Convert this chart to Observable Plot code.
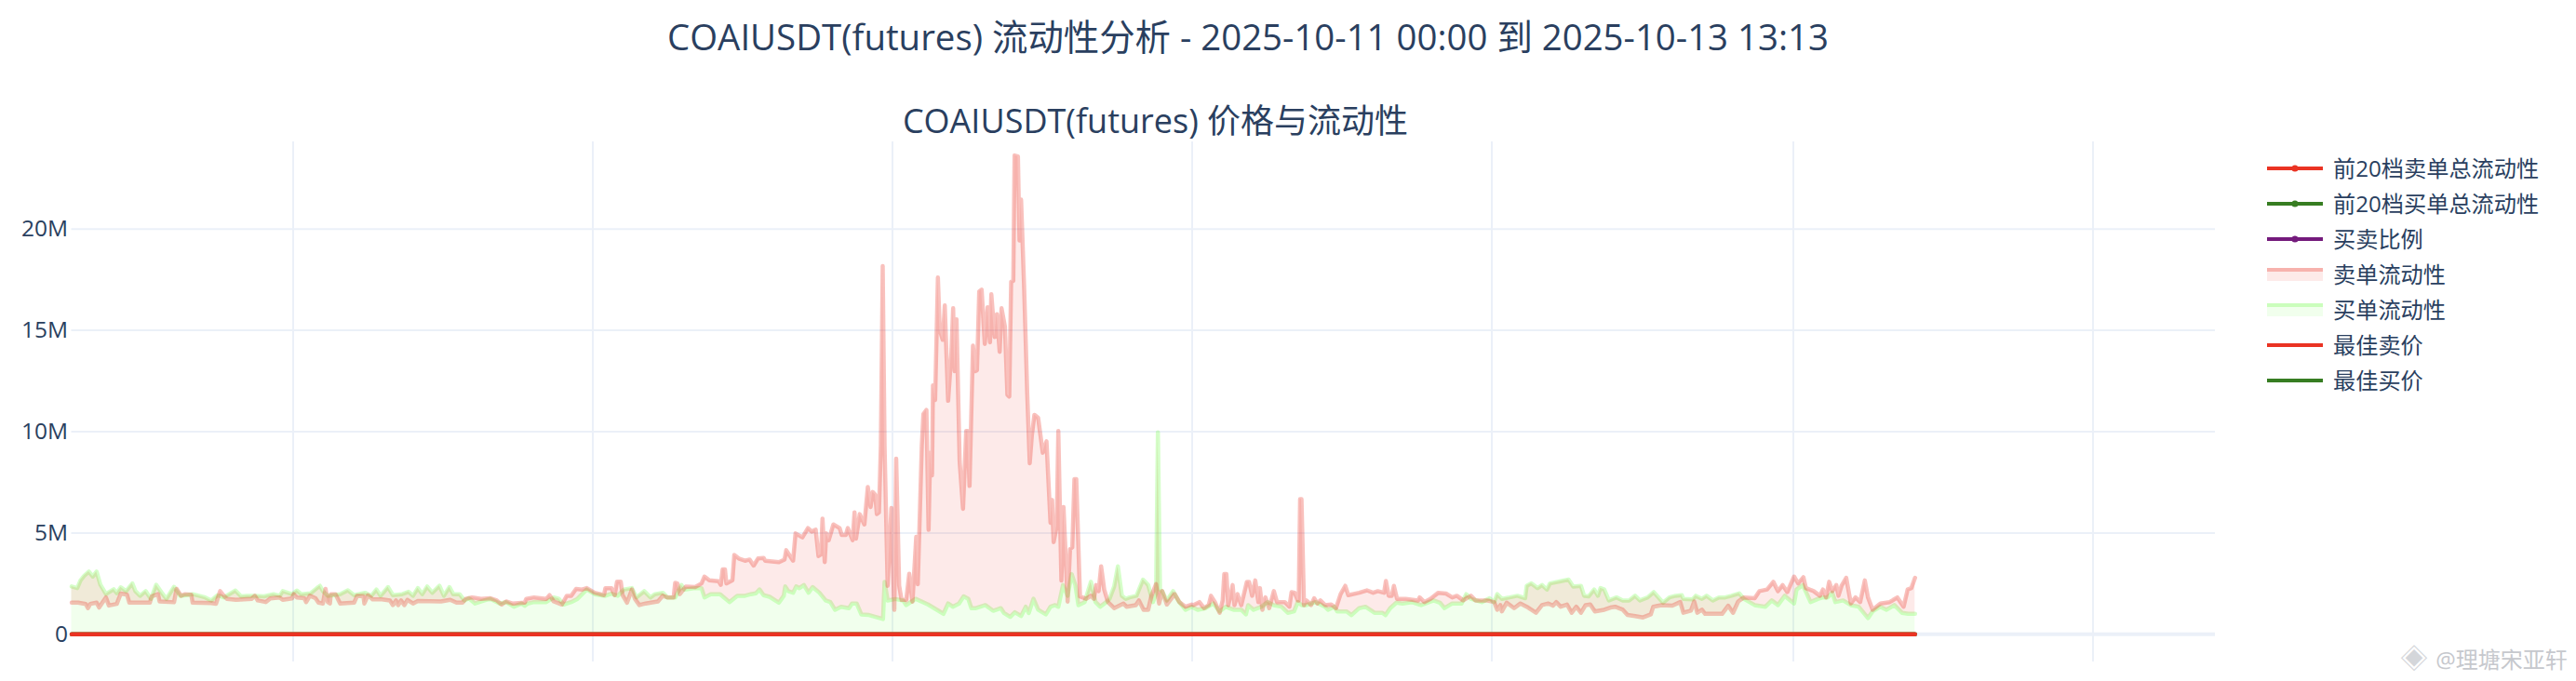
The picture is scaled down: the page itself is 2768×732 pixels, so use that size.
<!DOCTYPE html>
<html lang="zh">
<head>
<meta charset="utf-8">
<script src="https://cdn.jsdelivr.net/npm/d3@7"></script>
<script src="https://cdn.jsdelivr.net/npm/@observablehq/plot@0.6"></script>
<style>
html,body{margin:0;padding:0;background:#fff;width:2768px;height:732px;overflow:hidden;}
body{position:relative;font-family:"Open Sans","Noto Sans CJK SC",sans-serif;color:#2a3f5f;}
#chart{position:absolute;left:0;top:0;}
.t{position:absolute;white-space:nowrap;transform:translate(-50%,-50%);}
.leg{position:absolute;left:2507px;font-size:24.2px;line-height:24px;white-space:nowrap;transform:translateY(-50%);}
.sw{position:absolute;left:2436px;}
</style>
</head>
<body>
<div id="chart"></div>
<script>
// Sample number (about 2 samples per grid unit), liquidity in millions
const askPoints = [[0,1.56],[3.4,1.56],[7.6,1.49],[8.75,1.29],[10,1.50],[13.4,1.56],[14.75,1.32],[18.4,1.82],[20,1.42],[24.25,1.50],[26.4,2.01],[29.75,1.95],[31,1.56],[42,1.56],[43,1.87],[46.4,1.98],[47.25,1.62],[55,1.58],[56.4,2.24],[58.75,1.90],[61,1.98],[64.25,1.95],[65,1.56],[75,1.54],[77.6,1.51],[79.75,2.13],[81.75,1.90],[83.4,1.75],[88.4,1.70],[96.75,1.75],[98.4,1.90],[100,1.67],[104.25,1.59],[106.75,1.77],[111.75,1.82],[113.4,1.70],[118.4,1.77],
[119.25,1.98],[121,1.82],[125,1.78],[126,1.59],[128,1.90],[131,1.78],[132.6,1.56],[135,1.52],[136.4,2.24],[137.6,1.59],[138.75,1.52],[139.25,1.98],[141.75,1.98],[144.25,1.52],[151.75,1.56],[153.4,1.90],[156.75,1.87],[157.25,1.52],[159.25,1.93],[161.75,1.72],[166.75,1.72],[171,1.67],[172.6,1.44],[174.25,1.67],[175.4,1.44],[177,1.67],[178.75,1.44],[180.4,1.70],[183.4,1.52],[186,1.64],[198.4,1.62],[203.4,1.70],[206.75,1.56],[210,1.56],[211.75,1.75],[215,1.82],[220,1.75],[225,1.78],[228.4,1.67],[231,1.47],[233.4,1.62],
[236.75,1.52],[243.4,1.56],[244.25,1.75],[248.4,1.82],[255,1.75],[256.75,1.93],[259,1.62],[263.4,1.47],[266,1.90],[268.4,1.90],[271,2.24],[274.25,2.21],[276.75,2.28],[281,2.05],[286,1.93],[286.75,2.28],[290,2.28],[291.75,1.93],[293,2.60],[295,2.60],[296,1.93],[298.4,1.56],[301,2.21],[302.6,1.75],[305,1.44],[308.4,1.52],[315,1.62],[317.6,1.90],[320,1.82],[323.4,1.82],[324.25,2.54],[325.4,2.51],[326.75,1.98],[330,2.36],[335,2.33],[338.4,2.51],[340,2.85],[342.6,2.66],[347.6,2.62],[348.75,2.44],[349.75,3.20],[351,3.20],[351.75,2.51],[355,2.66],[356,3.92],[358.4,3.74],
[361.75,3.63],[364.25,3.69],[366.4,3.39],[368.75,3.74],[371.75,3.77],[372.6,3.63],[380,3.56],[383,3.69],[383.9,4.15],[387.6,3.63],[388.9,4.98],[392.6,4.78],[395.6,5.24],[397.6,5.07],[399.75,5.16],[401.25,3.86],[402.6,3.94],[403.4,5.71],[404.6,3.56],[405.4,4.98],[406.75,4.64],[409.25,5.42],[412.6,5.24],[413.75,4.90],[415.9,4.90],[417,5.24],[419.6,4.64],[420.6,6.02],[421.4,4.72],[423.4,5.93],[425.9,5.42],[427.75,7.27],[429.25,6.28],[430.4,7.02],[431.75,6.89],[432.6,5.93],[433.75,6.02],[434.75,9.31],[435.75,18.17],[436.75,9.31],[438.4,2.39],[440.4,6.23],[442,1.21],[443,8.67],[444.6,2.39],[445.9,1.70],[448.4,1.70],[450,2.99],[451.75,1.61],[453.75,4.81],[454.6,2.47],[456.75,9.31],[457.6,10.87],[459.25,11.07],[460.4,5.16],[461.25,8.96],[462.25,7.84],[462.75,12.28],[463.9,11.56],[465.4,17.61],[466.4,15.02],[468,14.53],[469.1,16.23],[470.9,11.52],[472.6,13.81],[473.6,16.09],[474.4,12.98],[475.4,15.54],[477.1,8.53],[478.9,6.19],[480.6,10.03],[481.4,10.03],[482.4,7.32],[484.25,14.24],[485.4,12.98],[486.4,13.03],[487.6,16.92],[488.9,17.01],[490.6,14.33],[492.1,16.14],[493.4,14.41],[494.1,16.78],[495.9,14.67],[497.1,15.80],[498.6,13.94],[499.6,16.09],[501.4,15.19],[502.75,11.82],[503.75,11.73],[504.75,17.40],[505.9,17.44],[506.6,23.63],[508.4,23.58],[509.25,19.43],[510.1,21.45],[511.75,17.09],[513.4,11.90],[514.75,8.44],[515.9,9.83],[517.25,10.83],[519.25,10.69],[521.75,8.96],[523.75,9.52],[525.9,5.50],[526.75,6.63],[527.6,4.55],[529.25,5.33],[530.1,10.03],[531.75,2.65],[532.9,6.28],[535.1,1.61],[536.4,4.20],[537.6,4.29],[538.75,7.66],[539.75,7.66],[541.75,1.87],
[545.1,1.75],[547.6,1.90],[549.25,1.75],[550.4,2.43],[551.75,2.13],[553.1,3.35],[554.75,2.21],[556.75,1.59],[560.1,1.29],[565.1,1.52],[566.75,1.36],[571.75,1.44],[573.4,1.67],[575.9,1.21],[578.4,1.21],[580.1,1.90],[582.6,2.48],[584.25,1.52],[585.9,2.13],[588.4,1.47],[592.6,1.98],[595.1,1.59],[598.4,1.36],[601.75,1.47],
[602.6,1.44],[605.9,1.59],[608.4,1.29],[610.9,1.44],[612.1,1.90],[614.25,1.59],[616.75,1.06],[618.4,1.67],[619.25,2.97],[620.4,2.97],[621.4,1.44],[622.6,1.90],[623.75,2.43],[624.75,1.44],[626.4,1.98],[628.4,1.44],[631.4,2.59],[632.6,2.59],[634.25,1.90],[635.9,2.66],[637.6,1.59],[638.4,2.28],[639.75,1.21],[641.4,1.82],[643.4,1.29],[645.9,2.13],[647.6,1.59],[651.75,1.59],[654.25,1.36],[655.4,2.08],[657.1,2.05],[658.75,1.67],[659.25,1.67],[660,6.67],[660.75,6.67],[662.1,1.44],[663.4,1.67],[665.9,1.44],[667.6,1.78],[669.25,1.52],[670.9,1.67],[673.4,1.44],[676.75,1.47],[679.25,1.29],[681.75,1.98],[684.25,2.39],[685.9,1.93],[691.75,2.05],[695.9,2.17],[699.25,2.05],[701.75,2.13],[705.1,2.05],[706.1,2.63],[707.6,1.90],[709.25,1.90],[710.4,2.39],[712.1,1.75],[716.75,1.75],[723.4,1.67],[724.25,1.82],[726.75,1.59],
[730,1.75],[734.25,2.05],[738.4,2.01],[741.75,1.82],[744.25,1.90],[747.6,1.67],[751.75,1.90],[754.25,1.67],[760,1.67],[764.25,1.59],[765.9,1.21],[767.6,1.44],[768.4,1.13],[771,1.56],[775,1.29],[778.4,1.52],[781.75,1.36],[786.75,1.06],[790,1.44],[793.4,1.52],[795.9,1.41],[797.6,1.59],[800,1.36],[803.4,1.47],[805.9,1.06],[808.4,1.36],[810.9,1.06],[813.4,1.44],[815.9,1.47],[818.4,1.13],[823.4,1.21],[826.75,1.32],[829.25,1.36],[833.4,1.21],[835.9,0.95],[840,0.90],[844.25,0.83],[848.4,0.98],[849.75,1.36],[854.25,1.44],[860,1.41],
[864.25,1.59],[865.9,1.06],[870,1.17],[871.75,1.62],[873.4,1.06],[875.9,1.21],[877.6,1.01],[886.75,1.01],[890,1.41],[892.6,1.06],[895.4,1.62],[898.4,1.82],[904.25,1.78],[906.75,2.13],[910.9,2.21],[914.25,2.59],[916.75,2.13],[919.25,2.43],[921.75,2.08],[925.4,2.85],[927.6,2.51],[930.4,2.82],[931.75,2.28],[935.9,2.13],[939.25,1.90],[940.9,2.21],[942.6,1.82],[944.25,2.59],[945.9,2.13],[948.1,2.43],[949.25,1.90],[950.9,2.39],[953.4,2.79],[955.9,1.52],[958.4,1.82],[960.9,1.59],[963.4,2.66],[965.1,1.82],[967.6,1.21],[971.75,1.52],[976.75,1.59],[980.9,1.82],[984.25,1.36],[986.4,2.21],[988.4,2.28],[990.4,2.79]];

const bidPoints = [[0,2.36],[3,2.28],[4.75,2.66],[6.75,2.89],[9.25,3.09],[11.4,2.85],[13.4,3.09],[15.4,2.45],[18.4,1.99],[22.6,2.22],[24.25,2.03],[26.4,2.32],[29.25,2.13],[32.6,2.51],[34.25,2.13],[36.75,1.90],[39.75,2.13],[42.6,1.75],[45.4,2.44],[48.4,2.05],[50.9,1.75],[55,2.34],[58.4,1.90],[65,1.98],[68.4,1.90],[71.75,1.82],[75,1.67],[78.4,1.93],[81.75,1.82],[88,2.16],[91,1.87],[94.25,1.90],[98.4,1.90],[103.4,1.87],[108.4,1.98],[111.75,1.90],[113.4,2.13],[118.4,1.98],
[121,2.16],[123.4,1.98],[128.4,2.02],[131.75,2.28],[133.4,2.39],[135,2.13],[137.6,1.90],[144.25,1.98],[148.4,2.17],[151.75,1.93],[157.6,2.05],[161,1.90],[163.75,2.21],[166,1.90],[170,2.33],[172.6,1.93],[177.6,1.98],[181,2.10],[183.4,1.90],[186,2.28],[188.4,1.98],[191,2.36],[193.75,2.05],[197.6,2.39],[200,1.90],[203,2.33],[205,1.98],[208.4,1.98],[211,1.67],[213.4,1.78],[216.75,1.52],[221.75,1.67],[225,1.75],[230,1.52],[233.4,1.59],[237.6,1.36],[241.75,1.52],
[243.4,1.41],[245,1.52],[248.4,1.59],[255,1.59],[259,1.82],[261.75,1.75],[264.25,1.47],[268.4,1.59],[271.75,1.75],[276.75,2.21],[281,1.98],[286.75,1.90],[290,2.0],[293.4,1.90],[296.75,2.21],[301,2.28],[303.4,1.82],[307.6,2.13],[311,1.82],[313.4,1.98],[317.6,2.05],[320,1.82],[324.25,1.82],[327.6,2.43],[329.25,2.21],[335,2.28],[338.4,2.28],[340,1.82],[343.4,1.98],[348.4,1.98],[353.4,1.59],[357.6,1.90],[361.75,1.90],
[365,1.98],[367.6,2.02],[369.6,2.21],[371.75,1.93],[375,1.85],[380,1.56],[382.6,1.90],[383.4,2.36],[385,2.13],[387.6,2.05],[389.25,2.36],[391,2.28],[393.4,2.43],[395.9,2.05],[398.1,2.33],[401.75,2.05],[405.1,1.67],[407.6,1.59],[410.1,1.21],[413.4,1.36],[417.6,1.29],[419.25,1.52],[421.75,1.52],[424.25,0.98],[428.4,0.95],[435.9,0.75],[436.75,2.58],[438.4,1.67],[442.6,1.74],[446.75,1.67],[448.4,1.44],[453.4,1.75],[460.1,1.47],[468.4,1.01],[470.9,1.52],[473.4,1.36],[476.75,1.52],[479.25,1.87],[481.75,1.75],[483.4,1.29],[485.9,1.29],[490.9,1.44],[495.1,1.16],[499.25,1.29],[500.9,1.05],[504.25,0.86],[506.75,1.09],[510.1,0.90],[512.6,1.36],[514.25,1.05],[516.75,1.75],[519.25,1.21],[523.4,0.98],[525.9,1.36],[528.4,1.44],[530.1,1.36],[532.6,2.43],[535.1,1.90],[537.25,2.97],[539.25,2.43],[540.9,1.44],[544.25,1.59],[547.6,2.59],[550.1,1.59],[552.6,1.36],[555.9,1.59],[557.6,1.75],[560.1,2.36],[562.1,3.35],[564.25,1.90],[566.4,1.75],[568.4,1.82],[572.1,1.90],[575.6,2.70],[578.4,2.43],[580.9,1.59],[582.6,2.0],[583.6,9.97],[584.75,2.2],[585.9,2.13],[588.4,1.67],[591.75,2.13],[595.1,1.59],[598.4,1.21],[601.75,1.36],
[605,1.21],[609.25,1.29],[613.4,1.52],[616.75,1.13],[620,1.36],[624.25,1.21],[628.4,1.21],[630.9,0.98],[632.1,1.44],[635,1.21],[639.25,1.36],[642.6,1.59],[645.9,1.44],[650,1.36],[653.4,1.06],[656.75,1.13],[658.75,1.59],[660.9,1.44],[663.4,1.44],[668.4,1.59],[673.4,1.36],[675,1.21],[678.4,1.36],[680,1.13],[685,1.13],[687.6,0.95],[691.75,1.29],[695.1,1.36],[700,1.06],[704.25,1.06],[705.9,0.95],[708.4,1.29],[711.75,1.56],[715,1.52],[720,1.59],[725,1.44],[731.75,1.67],
[735.1,1.56],[737.6,1.29],[741.75,1.52],[746.75,1.52],[749.25,1.98],[751.75,1.75],[757.6,1.59],[761.75,1.78],[764.25,1.59],[765.9,1.98],[768.4,1.75],[772.6,1.82],[776.75,1.90],[780.9,1.78],[781.75,2.39],[784.25,2.51],[787.6,2.28],[790,2.43],[792.6,2.21],[794.25,2.51],[800,2.62],[804.25,2.70],[806.75,2.36],[810.9,2.39],[812.6,1.90],[815,1.87],[818,2.21],[820,1.90],[821.4,2.28],[823.4,2.21],[825.9,1.67],[830,1.82],[833.4,1.67],[836.75,1.67],[840,1.90],[842.6,1.67],[846.75,1.82],[850,2.08],[855,1.56],[858.4,1.82],[861.75,1.90],
[865.1,1.93],[865.9,1.75],[870.9,1.72],[872.6,1.90],[875.9,1.75],[878.4,1.90],[881.75,1.67],[885,1.82],[888.4,1.82],[891.75,1.90],[895.9,2.02],[898.4,1.75],[904.25,1.44],[910,1.36],[913.4,1.67],[916.75,1.44],[920.4,1.90],[923.4,1.67],[925.4,1.52],[926.75,2.21],[930.1,2.43],[934.25,1.59],[938.4,1.75],[940.9,1.82],[943.4,1.82],[945.9,2.05],[947.6,1.59],[951.75,1.67],[955.9,1.44],[960.1,1.36],[965.1,0.80],[967.6,1.13],[971.75,1.36],[975.1,1.21],[979.25,1.44],[983.4,1.06],[986.75,1.01],[990.4,1.01]];

const bestPriceSamples = [0, 990.4];
const bestAskValues = [0, 0];
const bestBidValues = [0, 0];
const xGridSamples = [119, 280, 441, 602, 763, 925, 1086];
const yTicks = [0, 5, 10, 15, 20];
const mainTitle = "COAIUSDT(futures) 流动性分析 - 2025-10-11 00:00 到 2025-10-13 13:13";
const subTitle = "COAIUSDT(futures) 价格与流动性";
const watermark = "@理塘宋亚轩";
const legendNames = ["前20档卖单总流动性","前20档买单总流动性","买卖比例","卖单流动性","买单流动性","最佳卖价","最佳买价"];

const RED = "#EA3323", LIME = "#75FB4C", DARKGREEN = "#377D22", PURPLE = "#741B7C";
const legendColors = [RED, DARKGREEN, PURPLE, RED, LIME, RED, DARKGREEN];
const legendKinds = ["dot","dot","dot","area","area","line","line"];

const ask = askPoints.map(([s, v]) => ({s, v}));
const bid = bidPoints.map(([s, v]) => ({s, v}));

// The fill between the two curves needs both edges on one shared x list.
function edge(points) {
  const xs = points.map(p => p.s), b = d3.bisector(d => d).left;
  return s => {
    const i = Math.min(Math.max(b(xs, s), 1), xs.length - 1), p = points[i - 1], q = points[i];
    return p.v + (q.v - p.v) * (s - p.s) / (q.s - p.s);
  };
}
const askAt = edge(ask), bidAt = edge(bid);
const band = Array.from(new Set([...ask, ...bid].map(d => d.s))).sort(d3.ascending)
  .map(s => ({s, a: askAt(s), b: bidAt(s)}));

const GRID = "#EBF0F8";
const fig = Plot.plot({
  width: 2768, height: 732,
  marginLeft: 76.5, marginRight: 388, marginTop: 152, marginBottom: 21,
  style: {fontFamily: '"Open Sans","Noto Sans CJK SC",sans-serif', background: "#fff", color: "#2a3f5f"},
  x: {type: "linear", domain: [0, 1151.75], axis: null},
  y: {domain: [-1.364, 24.3], axis: null},
  marks: [
    Plot.ruleX(xGridSamples, {stroke: GRID, strokeWidth: 2}),
    Plot.ruleY(yTicks, {stroke: GRID, strokeWidth: d => d === 0 ? 4 : 2}),
    Plot.axisY({ticks: yTicks, tickSize: 0, tickPadding: 4, fontSize: 24.5, fill: "#2a3f5f",
      tickFormat: d => d === 0 ? "0" : d + "M", label: null}),
    Plot.areaY(bid, {x: "s", y: "v", fill: LIME, fillOpacity: 0.1}),
    Plot.lineY(bid, {x: "s", y: "v", stroke: LIME, strokeOpacity: 0.3, strokeWidth: 4.5}),
    Plot.areaY(band, {x: "s", y1: "b", y2: "a", fill: RED, fillOpacity: 0.1}),
    Plot.lineY(ask, {x: "s", y: "v", stroke: RED, strokeOpacity: 0.3, strokeWidth: 4.5}),
    Plot.lineY(bestPriceSamples.map((s, i) => ({s, v: bestBidValues[i]})), {x: "s", y: "v", stroke: DARKGREEN, strokeWidth: 4.5}),
    Plot.lineY(bestPriceSamples.map((s, i) => ({s, v: bestAskValues[i]})), {x: "s", y: "v", stroke: RED, strokeWidth: 4.5})
  ]
});
document.getElementById("chart").append(fig);

function addText(text, left, top, size, extra = "") {
  const d = document.createElement("div");
  d.className = "t";
  d.style.cssText = `left:${left}px;top:${top}px;font-size:${size}px;${extra}`;
  d.textContent = text;
  document.body.append(d);
}
addText(mainTitle, 1341, 37, 38.4);
addText(subTitle, 1241.5, 127, 36);
addText("◈", 2594, 707, 30, "color:#d4d6da;");
addText(watermark, 2688, 707, 24, "color:#c6c8cd;");

legendNames.forEach((name, i) => {
  const cy = 181 + i * 38;
  const l = document.createElement("div");
  l.className = "leg"; l.style.top = cy + "px"; l.textContent = name;
  document.body.append(l);
  const sw = d3.create("svg").attr("class", "sw").attr("width", 60).attr("height", 24)
    .style("top", (cy - 12) + "px");
  const c = legendColors[i];
  if (legendKinds[i] === "area") {
    sw.append("rect").attr("width", 60).attr("height", 14).attr("y", 5).attr("fill", c).attr("fill-opacity", 0.1);
    sw.append("rect").attr("width", 60).attr("height", 4).attr("y", 5).attr("fill", c).attr("fill-opacity", 0.3);
  } else {
    sw.append("rect").attr("width", 60).attr("height", 4).attr("y", 10).attr("fill", c);
    if (legendKinds[i] === "dot") sw.append("circle").attr("cx", 30).attr("cy", 12).attr("r", 3.6).attr("fill", c);
  }
  document.body.append(sw.node());
});
</script>
</body>
</html>
